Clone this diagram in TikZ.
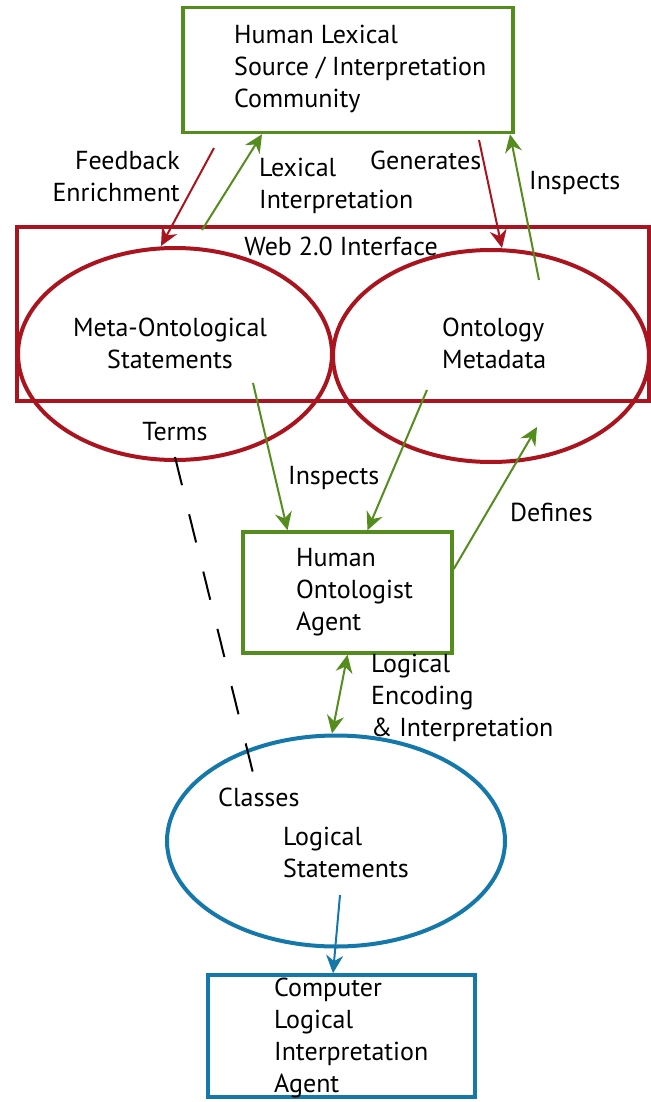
\documentclass[tikz,border=0pt]{standalone}
\usepackage{fontspec}
\setmainfont{PT Sans}
\usetikzlibrary{arrows.meta,shapes.geometric}
\definecolor{leafgreen}{RGB}{84,140,30}
\definecolor{wine}{RGB}{170,20,30}
\definecolor{ocean}{RGB}{20,120,170}
\begin{document}
\begin{tikzpicture}[x=1pt, y=-1pt,
  txt/.style={font=\fontsize{26}{32}\selectfont, align=left, inner sep=0pt},
  frame/.style={draw=#1, line width=3.5pt, rectangle, inner sep=0pt},
  oval/.style={draw=#1, line width=4pt, ellipse, inner sep=0pt},
  link/.style={draw=#1, line width=2pt, -{Stealth[length=18pt,width=17pt]}}]
  \useasboundingbox (0,0) rectangle (650,1102);

  \node[frame=leafgreen, minimum width=330pt, minimum height=125pt] (community) at (348,70) {};
  \node[frame=wine, minimum width=632pt, minimum height=174pt] (web) at (333,314) {};
  \node[oval=wine, minimum width=314pt, minimum height=212pt] (meta) at (175,354) {};
  \node[oval=wine, minimum width=316pt, minimum height=212pt] (onto) at (491,356) {};
  \node[frame=leafgreen, minimum width=209pt, minimum height=121pt] (ontologist) at (347.5,592.5) {};
  \node[oval=ocean, minimum width=338pt, minimum height=211pt] (logic) at (336,841) {};
  \node[frame=ocean, minimum width=267pt, minimum height=122pt] (computer) at (341.5,1036) {};

  \node[txt, anchor=west] (communitytxt) at (234,69) {Human Lexical\\Source / Interpretation\\Community};
  \node[txt] (webtxt) at (341,246) {Web 2.0 Interface};
  \node[txt, align=center] (metatxt) at (170,343) {Meta-Ontological\\Statements};
  \node[txt, anchor=west] (ontotxt) at (442,343) {Ontology\\Metadata};
  \node[txt, anchor=west] (ontologisttxt) at (296,592) {Human\\Ontologist\\Agent};
  \node[txt, anchor=west] (logictxt) at (283,852) {Logical\\Statements};
  \node[txt, anchor=west] (computertxt) at (274,1038) {Computer\\Logical\\Interpretation\\Agent};

  \node[txt, align=right, anchor=east] (feedback) at (180,177) {Feedback\\Enrichment};
  \node[txt, anchor=west] (lexical) at (259,186) {Lexical\\Interpretation};
  \node[txt, anchor=west] (generates) at (370,160) {Generates};
  \node[txt, anchor=west] (inspectsup) at (529,183) {Inspects};
  \node[txt] (terms) at (175,432) {Terms};
  \node[txt, anchor=west] (inspectsdown) at (288,478) {Inspects};
  \node[txt, anchor=west] (defines) at (510,512) {Defines};
  \node[txt, anchor=west] (encoding) at (371,698) {Logical\\Encoding\\\& Interpretation};
  \node[txt, anchor=west] (classes) at (218,797) {Classes};

  \coordinate (fbstart) at (214,148);
  \coordinate (lxstart) at (202,230);
  \coordinate (genstart) at (479,140);
  \coordinate (insstart) at (539,280);
  \coordinate (metaout) at (253,383);
  \coordinate (ontoout) at (427,390);
  \coordinate (defend) at (537,427);
  \coordinate (logicout) at (340,895);
  \coordinate (classend) at (253,773);

  \draw[link=wine] (fbstart) -- ([xshift=-14pt]meta.north);
  \draw[link=leafgreen] (lxstart) -- ([xshift=-86pt]community.south);
  \draw[link=wine] (genstart) -- ([xshift=11pt]onto.north);
  \draw[link=leafgreen] (insstart) -- ([xshift=162pt]community.south);
  \draw[link=leafgreen] (metaout) -- ([xshift=-60pt]ontologist.north);
  \draw[link=leafgreen] (ontoout) -- ([xshift=20pt]ontologist.north);
  \draw[link=leafgreen] ([yshift=23.5pt]ontologist.east) -- (defend);
  \draw[link=leafgreen, {Stealth[length=18pt,width=17pt]}-{Stealth[length=18pt,width=17pt]}] (ontologist.south) -- ([xshift=-4pt]logic.north);
  \draw[link=ocean] (logicout) -- ([xshift=-8.5pt]computer.north);
  \draw[line width=2pt, dash pattern=on 29pt off 30pt] ([yshift=5pt]meta.south) -- (classend);
\end{tikzpicture}
\end{document}
